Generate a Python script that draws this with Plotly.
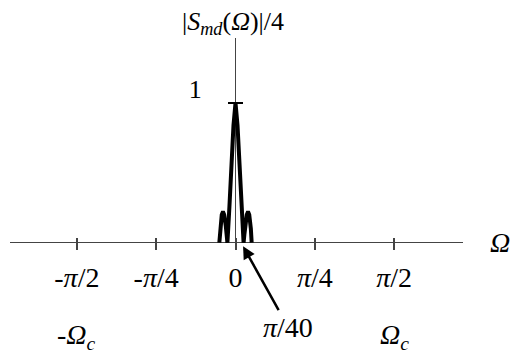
import plotly.graph_objects as go
import math

# ---- data ----
omega = [-0.160, -0.152, -0.144, -0.136, -0.128, -0.120, -0.112, -0.104, -0.096, -0.088, -0.080,
         -0.060, -0.040, -0.020, 0.0, 0.020, 0.040, 0.060,
         0.080, 0.088, 0.096, 0.104, 0.112, 0.120, 0.128, 0.136, 0.144, 0.152, 0.160]
mag = [0.0, 0.10, 0.16, 0.20, 0.215, 0.215, 0.20, 0.17, 0.12, 0.06, 0.0,
       0.26, 0.56, 0.84, 1.0, 0.84, 0.56, 0.26,
       0.0, 0.06, 0.12, 0.17, 0.20, 0.215, 0.215, 0.20, 0.16, 0.10, 0.0]

tick_vals = [-math.pi / 2, -math.pi / 4, 0, math.pi / 4, math.pi / 2]
tick_text = ["-<i>π</i>/2", "-<i>π</i>/4", "0", "<i>π</i>/4", "<i>π</i>/2"]
cutoff_labels = ["-<i>Ω<sub>c</sub></i>", "<i>Ω<sub>c</sub></i>"]
cutoff_vals = [-math.pi / 2, math.pi / 2]
marker_label = "<i>π</i>/40"
ytitle = "|<i>S<sub>md</sub></i>(<i>Ω</i>)|/4"
xtitle = "<i>Ω</i>"

FONT = "Liberation Serif"
AX = "#444"
OFF = 8  # page offset of the figure inside the browser window

W, H = 519 - OFF, 359 - OFF
# plot area in page pixels: x 10..463, y 38..249
pl, pr, pt, pb = 10 - OFF, 463 - OFF, 38 - OFF, 249 - OFF
L, R, T, B = pl, W - pr, pt, H - pb
PW, PH = pr - pl, pb - pt

px_per_rad = 101.0
x0px = 235.5 - OFF
xr = [(pl - x0px) / px_per_rad, (pr - x0px) / px_per_rad]
py_per_unit = 139.7
y0px = 242.7 - OFF
yr = [-(pb - y0px) / py_per_unit, (y0px - pt) / py_per_unit]


def ppy(page_y):
    return (pb - (page_y - OFF)) / PH


def ppx(page_x):
    return ((page_x - OFF) - pl) / PW


fig = go.Figure()
fig.add_trace(go.Scatter(x=omega, y=mag, mode="lines",
                         line=dict(color="black", width=4),
                         hoverinfo="skip", showlegend=False))

fig.update_layout(
    width=W, height=H,
    margin=dict(l=L, r=R, t=T, b=B, pad=0),
    plot_bgcolor="white", paper_bgcolor="white",
    font=dict(family=FONT, color="black", size=28),
    xaxis=dict(range=xr, showgrid=False, zeroline=True, zerolinecolor=AX, zerolinewidth=1.2,
               showline=False, anchor="free", position=12 / PH,
               tickvals=tick_vals, ticktext=tick_text, ticks="outside", ticklen=12,
               tickwidth=1.5, tickcolor=AX, tickfont=dict(size=28, family=FONT),
               ticklabelstandoff=3, fixedrange=True),
    yaxis=dict(range=yr, showgrid=False, zeroline=True, zerolinecolor=AX, zerolinewidth=1.2,
               showline=False, anchor="free", position=ppx(243),
               tickvals=[1], ticktext=["1"], ticks="outside", ticklen=15, tickwidth=2,
               tickcolor="black", tickfont=dict(size=26, family=FONT),
               ticklabelstandoff=21, ticklabelshift=-14, fixedrange=True),
)

for xv, txt in zip(cutoff_vals, cutoff_labels):
    fig.add_annotation(x=xv, xref="x", y=ppy(336), yref="paper", yanchor="middle",
                       xanchor="center", text=txt, showarrow=False,
                       font=dict(size=28, family=FONT))

# arrow with pi/40
fig.add_annotation(x=0.075, y=-0.025, xref="x", yref="y", text=marker_label,
                   showarrow=True, ax=45, ay=81, arrowhead=2, arrowsize=1.0, arrowwidth=2.5,
                   arrowcolor="black", font=dict(size=28, family=FONT))

# axis titles
fig.add_annotation(x=ppx(233), xref="paper", y=ppy(23), yref="paper", yanchor="middle",
                   xanchor="center", text=ytitle, showarrow=False,
                   font=dict(size=26, family=FONT))
fig.add_annotation(x=ppx(500), xref="paper", y=0, yref="y", yanchor="middle",
                   xanchor="center", text=xtitle, showarrow=False,
                   font=dict(size=28, family=FONT))

fig.write_html("out.html")
